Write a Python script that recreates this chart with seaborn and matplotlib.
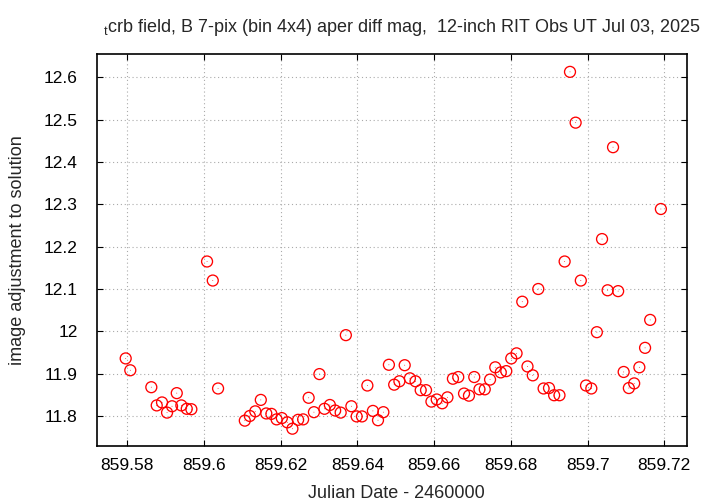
import numpy as np
import pandas as pd
import matplotlib
matplotlib.use("Agg")
import matplotlib.pyplot as plt
import seaborn as sns

jd = [859.57958, 859.58078, 859.58626, 859.58767, 859.58905, 859.59036, 859.59166,
      859.59289, 859.59409, 859.59550, 859.59670, 859.60079, 859.60228, 859.60366,
      859.61063, 859.61193, 859.61336, 859.61480, 859.61623, 859.61756, 859.61892,
      859.62028, 859.62171, 859.62304, 859.62453, 859.62583, 859.62727, 859.62865,
      859.63008, 859.63139, 859.63280, 859.63418, 859.63562, 859.63697, 859.63841,
      859.63979, 859.64117, 859.64258, 859.64402, 859.64535, 859.64675, 859.64819,
      859.64957, 859.65093, 859.65231, 859.65367, 859.65513, 859.65648, 859.65787,
      859.65928, 859.66066, 859.66209, 859.66345, 859.66488, 859.66627, 859.66778,
      859.66906, 859.67044, 859.67180, 859.67318, 859.67456, 859.67592, 859.67735,
      859.67879, 859.68009, 859.68147, 859.68296, 859.68432, 859.68570, 859.68713,
      859.68852, 859.68993, 859.69126, 859.69266, 859.69400, 859.69540, 859.69687,
      859.69822, 859.69958, 859.70096, 859.70240, 859.70375, 859.70521, 859.70662,
      859.70795, 859.70939, 859.71074, 859.71213, 859.71348, 859.71497, 859.71630,
      859.71909]
mag = [11.936, 11.908, 11.868, 11.825, 11.832, 11.808, 11.823,
       11.854, 11.825, 11.817, 11.816, 12.165, 12.120, 11.865,
       11.789, 11.800, 11.811, 11.838, 11.806, 11.805, 11.792,
       11.795, 11.785, 11.770, 11.791, 11.792, 11.843, 11.809,
       11.899, 11.817, 11.826, 11.813, 11.808, 11.991, 11.823,
       11.799, 11.799, 11.872, 11.812, 11.790, 11.809, 11.921,
       11.874, 11.882, 11.920, 11.889, 11.882, 11.861, 11.861,
       11.834, 11.839, 11.830, 11.844, 11.888, 11.892, 11.853,
       11.848, 11.892, 11.863, 11.863, 11.886, 11.915, 11.903,
       11.906, 11.936, 11.948, 12.070, 11.917, 11.896, 12.100,
       11.865, 11.866, 11.849, 11.849, 12.165, 12.613, 12.493,
       12.120, 11.872, 11.865, 11.998, 12.218, 12.097, 12.435,
       12.095, 11.904, 11.866, 11.877, 11.915, 11.961, 12.027,
       12.289]

xticks = [859.58, 859.60, 859.62, 859.64, 859.66, 859.68, 859.70, 859.72]
xticklabels = ["859.58", "859.6", "859.62", "859.64", "859.66", "859.68", "859.7", "859.72"]
yticks = [11.8, 11.9, 12.0, 12.1, 12.2, 12.3, 12.4, 12.5, 12.6]
yticklabels = ["11.8", "11.9", "12", "12.1", "12.2", "12.3", "12.4", "12.5", "12.6"]

df = pd.DataFrame({"jd": jd, "mag": mag})

sns.set_style("ticks")
plt.rcParams["font.family"] = ["Liberation Sans", "DejaVu Sans"]
plt.rcParams["mathtext.fontset"] = "custom"
plt.rcParams["mathtext.rm"] = "Liberation Sans"
plt.rcParams["mathtext.it"] = "Liberation Sans"

fig = plt.figure(figsize=(7.2, 5.04), dpi=100)
ax = fig.add_axes([97 / 720, 58 / 504, 590 / 720, 392 / 504])

sns.scatterplot(data=df, x="jd", y="mag", ax=ax, marker="o", s=62,
                facecolors="none", edgecolor="red", linewidth=0.95, zorder=3)
sns.scatterplot(data=df, x="jd", y="mag", ax=ax, marker=".", s=1.5,
                color="red", edgecolor="none", linewidth=0, zorder=4)

ax.set_xlim(859.5721, 859.7259)
ax.set_ylim(11.7291, 12.6552)
ax.set_xticks(xticks)
ax.set_xticklabels(xticklabels)
ax.set_yticks(yticks)
ax.set_yticklabels(yticklabels)

ax.grid(True, color="#aaaaaa", linestyle=(0, (1, 2.5)), linewidth=0.8)
ax.tick_params(direction="in", length=4.5, width=0.8, top=True, right=True,
               labelsize=12.5, colors="black")
ax.tick_params(axis="x", pad=9)
ax.tick_params(axis="y", pad=14)
for sp in ax.spines.values():
    sp.set_visible(True)
    sp.set_linewidth(1.2)
    sp.set_color("black")

ax.set_xlabel("")
ax.set_ylabel("")
fig.text(396 / 720, 1 - 493 / 504, "Julian Date - 2460000", ha="center", va="center", fontsize=13)
fig.text(18 / 720, 1 - 250 / 504, "image adjustment to solution", ha="center", va="center",
         rotation=90, fontsize=13)
fig.text(402 / 720, 1 - 27 / 504,
         r"$_{\mathrm{t}}$crb field, B 7-pix (bin 4x4) aper diff mag,  12-inch RIT Obs UT Jul 03, 2025",
         ha="center", va="center", fontsize=13)

fig.savefig("out.png", dpi=100)
